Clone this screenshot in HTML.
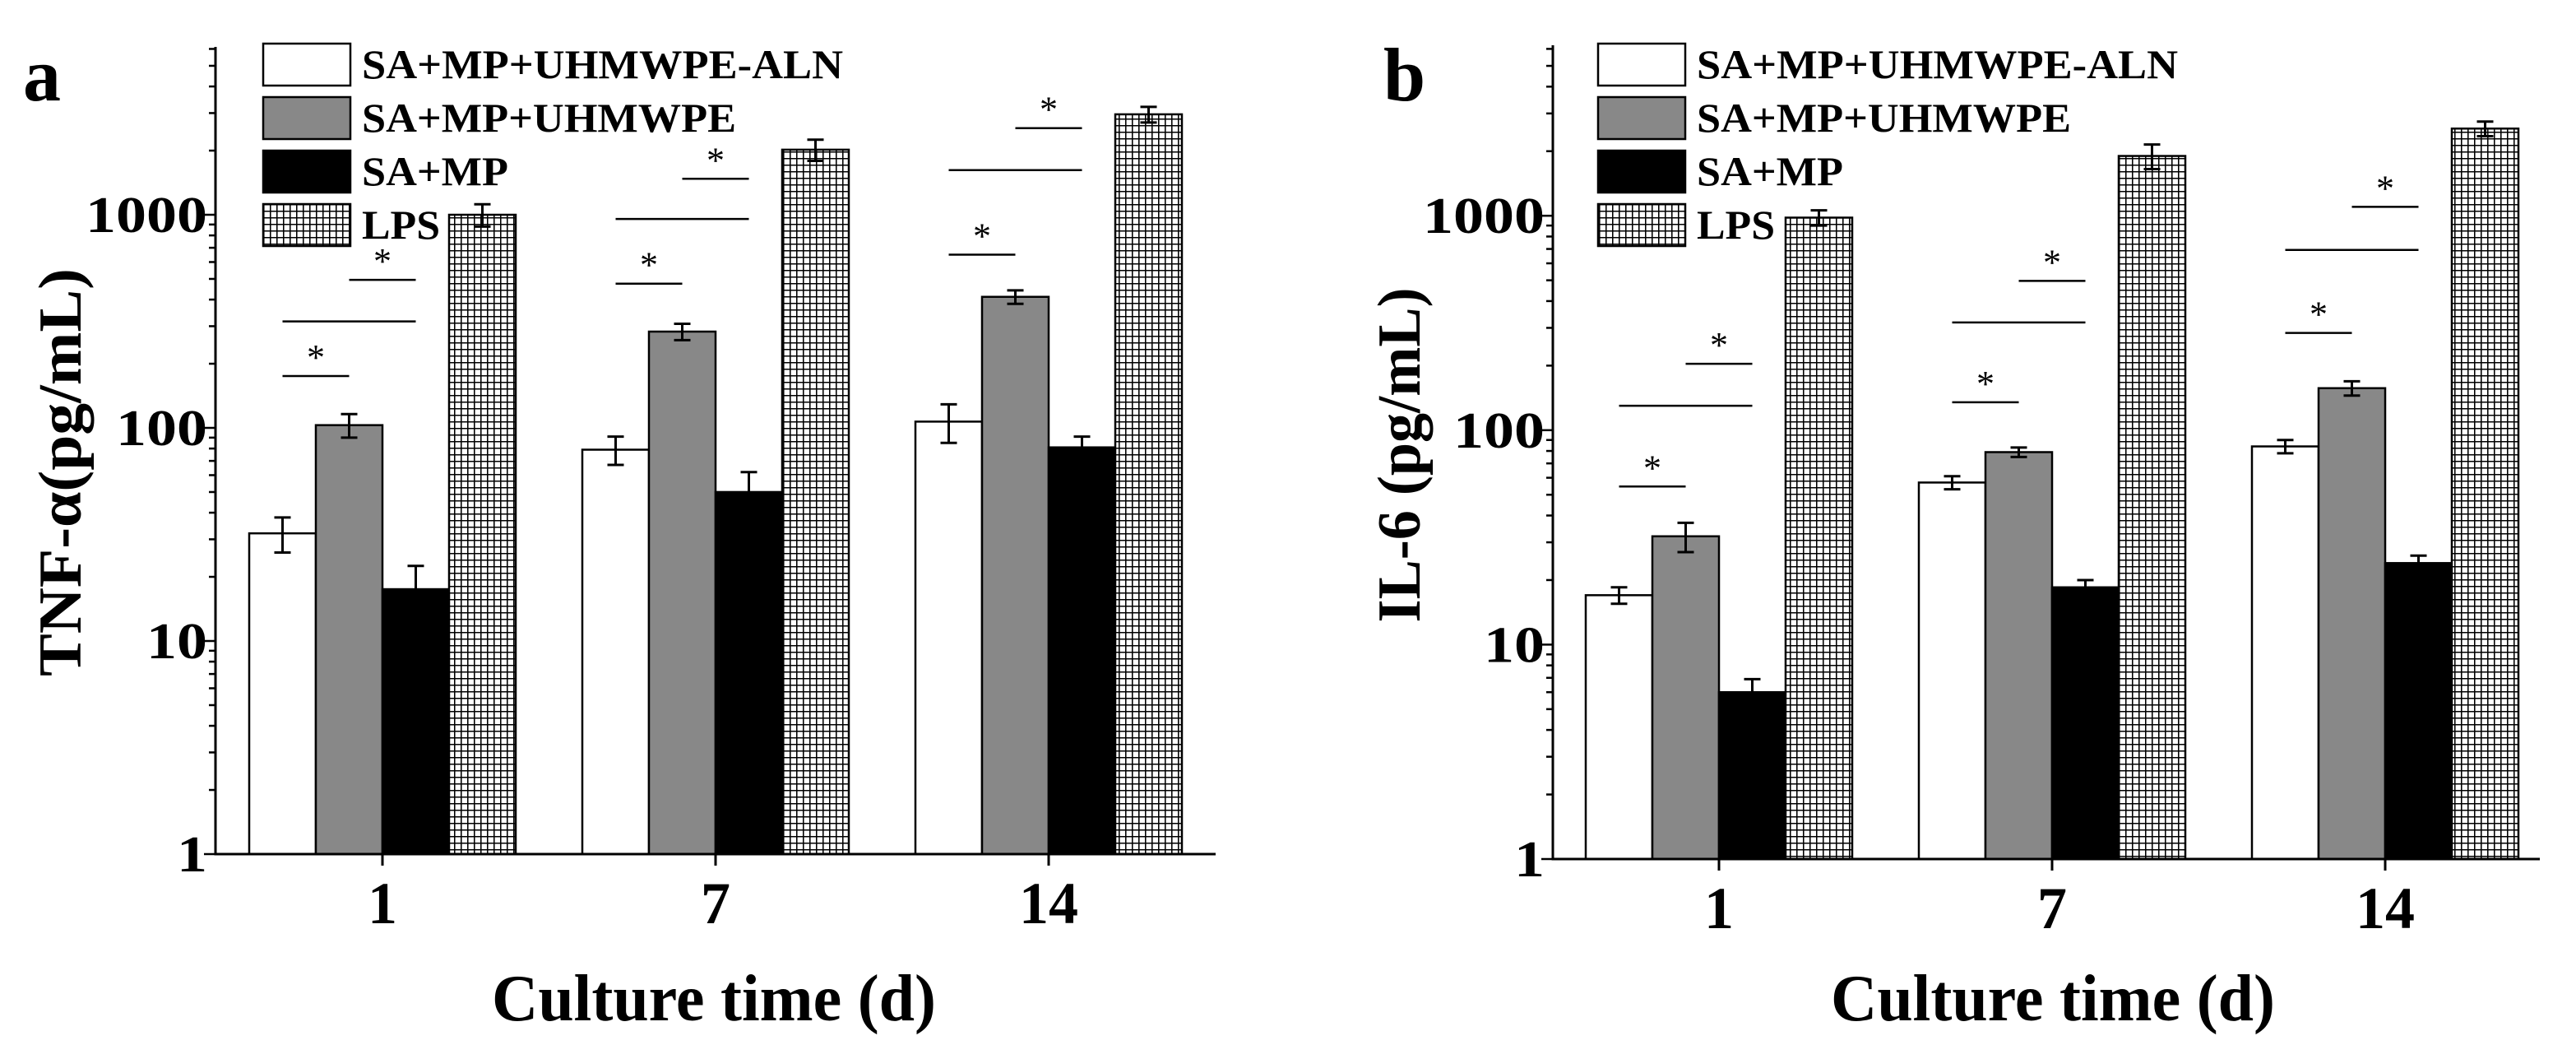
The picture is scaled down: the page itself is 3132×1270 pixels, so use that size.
<!DOCTYPE html>
<html><head><meta charset="utf-8"><style>
html,body{margin:0;padding:0;background:#fff;}
svg{display:block;font-family:"Liberation Serif",serif;font-weight:bold;}
</style></head><body>
<svg id="chart" width="3132" height="1270" viewBox="0 0 3132 1270" xmlns="http://www.w3.org/2000/svg">
<defs>
<pattern id="grid" width="8" height="8" patternUnits="userSpaceOnUse">
<rect width="8" height="8" fill="#fff"/><path d="M0 0.75H8M0.75 0V8" stroke="#000" stroke-width="1.6"/>
</pattern>
</defs>
</svg>
<script>
const categories = ["1","7","14"];
const seriesNames = ["SA+MP+UHMWPE-ALN","SA+MP+UHMWPE","SA+MP","LPS"];
const aWhite = [32,79,107], aGray = [103,283,412], aBlack = [17.5,50,81], aLps = [1000,2020,2960];
const aWhiteErr = [6,12,22], aGrayErr = [13,25,30], aBlackErr = [5,12,10], aLpsErr = [120,230,250];
const aSig = [[175,316,495],[475,955,1475],[650,1620,2550]];
const bWhite = [17,57,84], bGray = [32,79,157], bBlack = [6,18.5,24], bLps = [980,1900,2550];
const bWhiteErr = [1.5,4,6], bGrayErr = [5,4,12], bBlackErr = [0.9,1.5,2], bLpsErr = [80,250,200];
const bSig = [[54.6,130,204],[135,318,497],[284,693,1100]];
const yTickLabels = ["1","10","100","1000"];
const sigPairs = [[0,1],[0,2],[1,2]];
const fills = ["#fff","#888","#000","url(#grid)"];
const svg = document.getElementById('chart');
const NS = "http://www.w3.org/2000/svg";
function mk(tag, attrs, parent){const e=document.createElementNS(NS,tag);for(const k in attrs)e.setAttribute(k,attrs[k]);(parent||svg).appendChild(e);return e;}

function panel(cfg){
  const g = mk('g',{});
  
  
  const y = v => cfg.y0 - cfg.dec*Math.log10(v);
  const gx = i => cfg.t0 + i*cfg.gs;
  const bw = cfg.bw;
  const series = cfg.series, errs = cfg.errs;
  for(let i=0;i<categories.length;i++){
    for(let s=0;s<4;s++){
      const x = gx(i) + (s-2)*bw;
      const v = series[s][i];
      const r = mk('rect',{x:x,y:y(v),width:bw,height:cfg.y0-y(v),fill:fills[s],stroke:'#000','stroke-width':2.5},g);
      
      
      const cx = x+bw/2, e = errs[s][i];
      const p = mk('path',{d:`M${cx} ${y(v+e)}V${y(Math.max(v-e,0.01))}M${cx-10} ${y(v+e)}H${cx+10}M${cx-10} ${y(v-e)}H${cx+10}`,stroke:'#000','stroke-width':3,fill:'none'},g);
      
      
    }
    for(let k=0;k<3;k++){
      const [a,b]=sigPairs[k];
      const x1=gx(i)+(a-1.5)*bw, x2=gx(i)+(b-1.5)*bw, yy=y(cfg.sig[i][k]);
      const l = mk('line',{x1:x1,x2:x2,y1:yy,y2:yy,stroke:'#000','stroke-width':2.5},g);
      
      
      if(k!==1){
        const t = mk('text',{x:(x1+x2)/2,y:yy-8,'text-anchor':'middle','font-size':44,'font-weight':'normal'},g);
        t.textContent='*';
        
        
      }
    }
    const tk = mk('line',{x1:gx(i),x2:gx(i),y1:cfg.y0,y2:cfg.y0+14,stroke:'#000','stroke-width':3},g);
    
    
    const tl = mk('text',{x:gx(i),y:cfg.y0+84,'text-anchor':'middle','font-size':72},g);
    tl.textContent=categories[i];
    
    
  }
  const ax = mk('path',{d:`M${cfg.ax} ${cfg.top}V${cfg.y0}H${cfg.xe}`,stroke:'#000','stroke-width':3,fill:'none'},g);
  
  
  for(let d=0;d<4;d++){
    for(let m=1;m<=9;m++){
      const v=Math.pow(10,d)*m, yy=y(v);
      if(yy<cfg.top) break;
      mk('line',{x1:cfg.ax,x2:cfg.ax-(m===1?14:8),y1:yy,y2:yy,stroke:'#000','stroke-width':2.5},g);
    }
    const lab = yTickLabels[d];
    const t = mk('text',{x:cfg.ax-10,y:y(Math.pow(10,d))+21,'text-anchor':'end','font-size':62,textLength:37*lab.length,lengthAdjust:'spacingAndGlyphs'},g);
    t.textContent=lab;
    
    
  }
  const yt = mk('text',{x:0,y:0,'text-anchor':'middle','font-size':74,textLength:cfg.ytl,lengthAdjust:'spacingAndGlyphs',transform:`translate(${cfg.ytx},${cfg.yty}) rotate(-90)`},g);
  yt.textContent=cfg.ytitle;
  
  
  const xt = mk('text',{x:cfg.xtc,y:1240,'text-anchor':'middle','font-size':80,textLength:540,lengthAdjust:'spacingAndGlyphs'},g);
  xt.textContent='Culture time (d)';
  
  
  const pl = mk('text',{x:cfg.lx,y:122,'font-size':92},g);
  pl.textContent=cfg.letter;
  
  
  const lys=[53,118,183,248];
  const lw=[585,455,178,95];
  for(let s=0;s<4;s++){
    const r = mk('rect',{x:cfg.legx,y:lys[s],width:106,height:51,fill:fills[s],stroke:'#000','stroke-width':2.5},g);
    
    
    const t = mk('text',{x:cfg.legx+120,y:lys[s]+42,'font-size':50,textLength:lw[s],lengthAdjust:'spacingAndGlyphs'},g);
    t.textContent=seriesNames[s];
    
    
  }
}
panel({name:'panel-a-tnf',series:[aWhite,aGray,aBlack,aLps],errs:[aWhiteErr,aGrayErr,aBlackErr,aLpsErr],sig:aSig,
  y0:1038,dec:259,top:57,ax:262,xe:1478,t0:465,gs:405,bw:81,ytitle:'TNF-α(pg/mL)',ytl:496,ytx:98,yty:574,letter:'a',lx:28,legx:320,xtc:868});
panel({name:'panel-b-il6',series:[bWhite,bGray,bBlack,bLps],errs:[bWhiteErr,bGrayErr,bBlackErr,bLpsErr],sig:bSig,
  y0:1044,dec:260.6,top:55,ax:1888,xe:3088,t0:2090,gs:405,bw:81,ytitle:'IL-6 (pg/mL)',ytl:407,ytx:1726,yty:553,letter:'b',lx:1682,legx:1943,xtc:2496});
</script>
</body></html>
